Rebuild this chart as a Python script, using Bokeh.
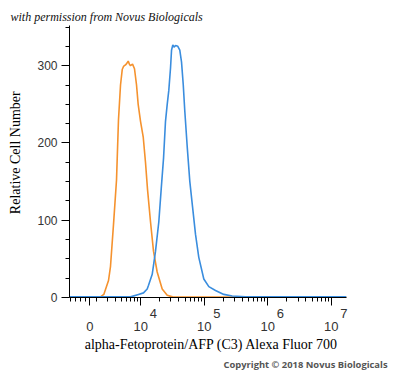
import math
from bokeh.plotting import figure
from bokeh.models import Range1d, FixedTicker, Title
from bokeh.embed import file_html
from bokeh.resources import INLINE

# ---- data (x in display decades of Alexa Fluor 700 intensity, y = relative cell number)
isotype_x = [2.88, 3.30, 3.368, 3.420, 3.494, 3.525, 3.573, 3.620, 3.651, 3.683, 3.710, 3.730,
             3.761, 3.782, 3.804, 3.822, 3.840, 3.872, 3.903, 3.935, 3.961, 3.998, 4.040, 4.076,
             4.108, 4.155, 4.202, 4.260, 4.339, 4.418, 4.501, 5.2, 7.24]
isotype_y = [0.5, 0.5, 0.8, 4, 22, 40, 95, 152, 230, 275, 295, 299,
             301, 303, 306, 302, 300, 302, 296, 275, 250, 228, 208, 175,
             140, 98, 60, 33, 11, 3, 0.8, 0.5, 0.5]

afp_x = [2.88, 3.840, 3.966, 4.045, 4.103, 4.124, 4.182, 4.234, 4.286, 4.323, 4.360, 4.391,
         4.418, 4.443, 4.470, 4.486, 4.506, 4.525, 4.549, 4.585, 4.616, 4.643, 4.670, 4.695,
         4.733, 4.774, 4.816, 4.863, 4.915, 4.994, 5.073, 5.178, 5.309, 5.441, 5.650, 7.24]
afp_y = [0.8, 0.8, 4, 6, 11, 16, 30, 60, 98, 140, 180, 228,
         250, 268, 297, 320, 327, 324, 326, 325, 320, 305, 276, 241,
         195, 150, 118, 82, 52, 24, 14, 9, 4, 2, 1, 0.8]

y_major = [0, 100, 200, 300]
y_minor = [25, 50, 75, 125, 150, 175, 225, 250, 275, 325, 350]
x_decades = [4.0, 5.0, 6.0, 7.0]
x_decade_base = "10"
x_superscripts = ["4", "5", "6", "7"]
x_zero = 3.2
x_zero_label = "0"
x_neg_minor = [2.896, 2.974, 3.053, 3.132]

title_text = "with permission from Novus Biologicals"
x_title = "alpha-Fetoprotein/AFP (C3) Alexa Fluor 700"
y_title = "Relative Cell Number"
copyright_text = "Copyright \u00a9 2018 Novus Biologicals"

# ---- layout
XS, XE = 2.88, 7.24
YS, YE = 0, 352
W, H = 392, 370
BL, BR, BT, BB = 69, 46, 25, 70
NB = "\u00a0"

p = figure(width=W, height=H, x_range=Range1d(XS, XE), y_range=Range1d(YS, YE),
           output_backend="svg", toolbar_location=None,
           min_border_left=BL, min_border_right=BR, min_border_top=BT, min_border_bottom=BB)
p.outline_line_color = None
p.grid.visible = False
p.background_fill_color = "white"
p.border_fill_color = "white"

minor_x = list(x_neg_minor)
for m in range(3, 7):
    for k in range(2, 10):
        v = math.log10(k * 10 ** m)
        if v < XE:
            minor_x.append(v)

overrides = {x_zero: NB + "\n" + x_zero_label}
for d, s in zip(x_decades, x_superscripts):
    overrides[d] = NB * 7 + s + "\n" + x_decade_base

xa = p.xaxis[0]
xa.ticker = FixedTicker(ticks=[x_zero] + x_decades, minor_ticks=minor_x)
xa.major_label_overrides = overrides
xa.major_label_text_font = "Liberation Sans"
xa.major_label_text_font_size = "13px"
xa.major_label_text_line_height = 0.9
xa.major_label_text_color = "#333333"
xa.major_label_standoff = 0
xa.axis_line_color = "black"
xa.major_tick_line_color = "black"
xa.minor_tick_line_color = "black"
xa.major_tick_out = 8
xa.major_tick_in = 0
xa.minor_tick_out = 4
xa.minor_tick_in = 0
xa.axis_label = NB * 2 + x_title
xa.axis_label_text_font = "Liberation Serif"
xa.axis_label_text_font_style = "normal"
xa.axis_label_text_font_size = "14px"
xa.axis_label_text_color = "black"
xa.axis_label_standoff = 0

ya = p.yaxis[0]
ya.ticker = FixedTicker(ticks=y_major, minor_ticks=y_minor)
ya.axis_line_color = "black"
ya.major_tick_line_color = "black"
ya.minor_tick_line_color = "black"
ya.major_tick_out = 8
ya.major_tick_in = 0
ya.minor_tick_out = 4
ya.minor_tick_in = 0
ya.major_label_standoff = 4
ya.major_label_text_font = "Liberation Sans"
ya.major_label_text_font_size = "12px"
ya.major_label_text_color = "#333333"
ya.axis_label = NB * 5 + y_title
ya.axis_label_text_font = "Liberation Serif"
ya.axis_label_text_font_style = "normal"
ya.axis_label_text_font_size = "14px"
ya.axis_label_text_color = "black"
ya.axis_label_standoff = 11

p.line(isotype_x, isotype_y, line_color="#F5922E", line_width=1.6)
p.line(afp_x, afp_y, line_color="#3A8DDE", line_width=1.6)

p.title = Title(text=title_text, align="left", offset=-59, standoff=3,
                text_font="Liberation Serif", text_font_style="italic",
                text_font_size="12px", text_color="#111111")
p.add_layout(Title(text=copyright_text, align="left", offset=154, standoff=0,
                   text_font="Open Sans", text_font_style="bold",
                   text_font_size="9.4px", text_color="#555555"), "below")

open("out.html", "w").write(file_html(p, INLINE))
